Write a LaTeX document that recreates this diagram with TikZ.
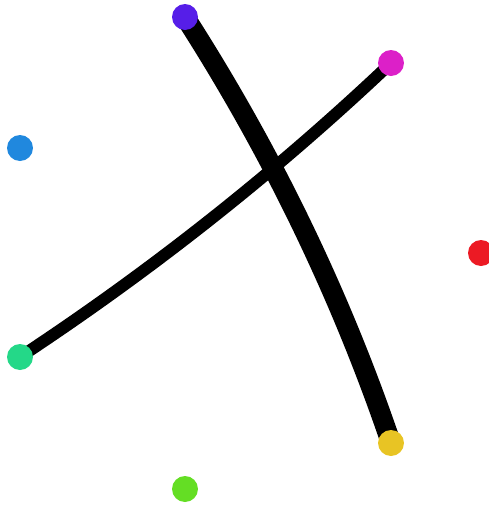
\documentclass[tikz,border=0pt]{standalone}
\usetikzlibrary{backgrounds}

\definecolor{dotviolet}{RGB}{86,30,232}
\definecolor{dotmagenta}{RGB}{220,32,200}
\definecolor{dotblue}{RGB}{32,136,222}
\definecolor{dotred}{RGB}{236,26,36}
\definecolor{dotteal}{RGB}{36,216,136}
\definecolor{dotyellow}{RGB}{232,196,36}
\definecolor{dotgreen}{RGB}{100,222,36}

\begin{document}
\begin{tikzpicture}[
  x=0.02cm, y=-0.02cm,
  dot/.style={circle, inner sep=0pt, minimum size=0.52cm},
  heavy/.style={line width=0.4cm},
  light/.style={line width=0.24cm}
]
\useasboundingbox (0,0) rectangle (489,505);

% seven points round the circle
\node[dot, fill=dotviolet]  (violet)  at (185, 17)  {};
\node[dot, fill=dotmagenta] (magenta) at (391, 63)  {};
\node[dot, fill=dotblue]    (blue)    at (20, 148)  {};
\node[dot, fill=dotred]     (red)     at (481, 253) {};
\node[dot, fill=dotteal]    (teal)    at (20, 357)  {};
\node[dot, fill=dotyellow]  (yellow)  at (391, 443) {};
\node[dot, fill=dotgreen]   (green)   at (185, 489) {};

% the two chords, under the dots
\coordinate (heavyA) at (271, 151);
\coordinate (heavyB) at (340, 293);
\coordinate (lightA) at (152, 270);
\coordinate (lightB) at (276, 172);
\begin{scope}[on background layer]
  \draw[heavy] (violet.center) .. controls (heavyA) and (heavyB) .. (yellow.center);
  \draw[light] (teal.center) .. controls (lightA) and (lightB) .. (magenta.center);
\end{scope}

\end{tikzpicture}
\end{document}
